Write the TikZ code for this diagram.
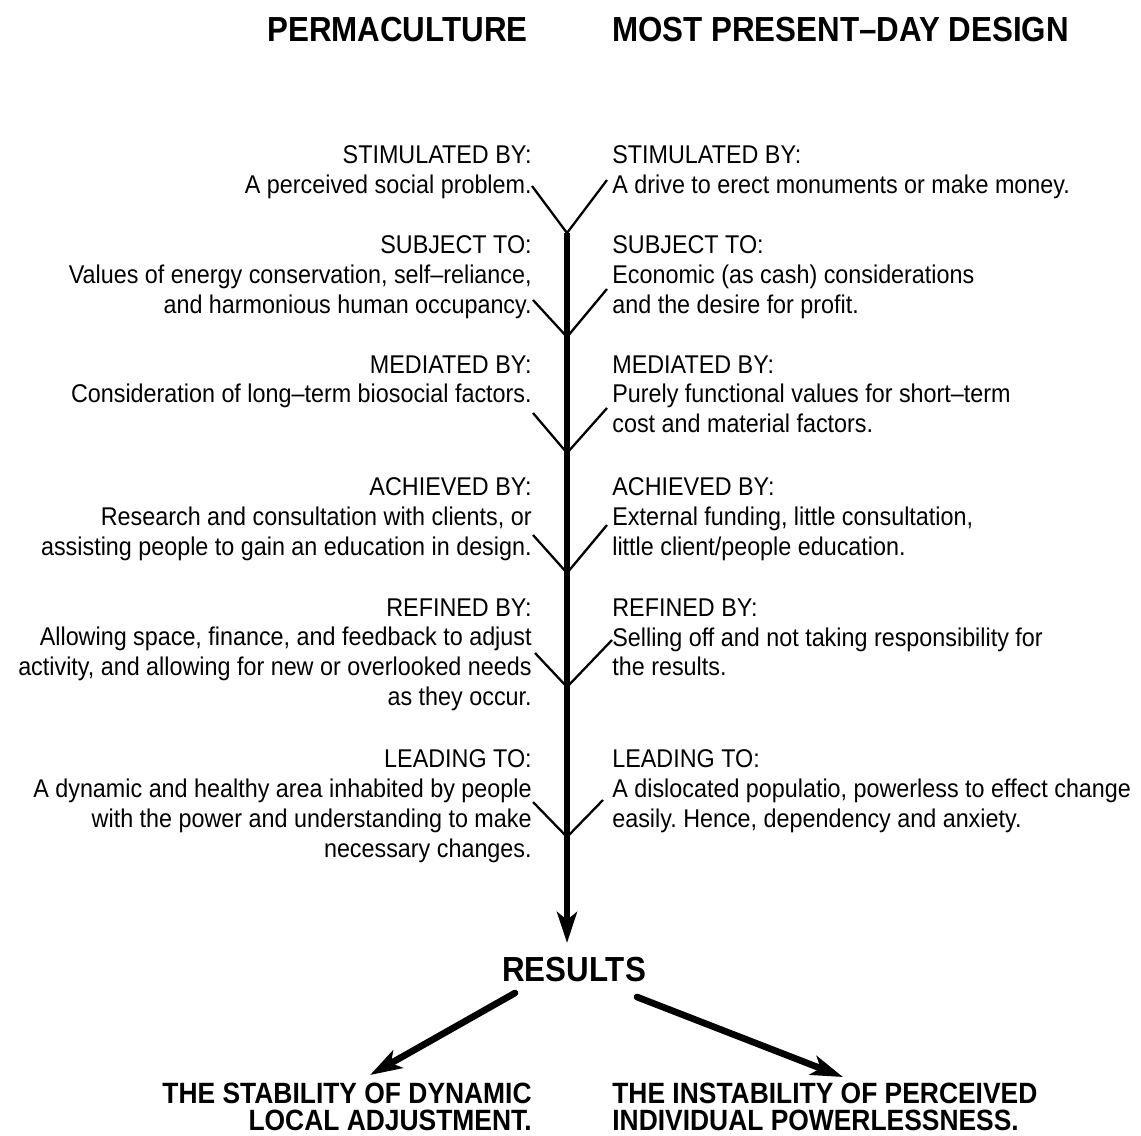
\documentclass[tikz,border=0pt]{standalone}
\usepackage{fontspec}
\setmainfont{Liberation Sans}[FakeStretch=0.91]
\newfontfamily\headfont{Liberation Sans}[FakeStretch=0.9]
\usetikzlibrary{arrows.meta}
\frenchspacing
\newcommand\bodysize{\fontsize{14.6}{17.07}\selectfont}
\tikzset{
lefttext/.style={
anchor=north east,
align=right,
inner sep=0pt,
font=\bodysize
},
righttext/.style={
anchor=north west,
align=left,
inner sep=0pt,
font=\bodysize
},
heading/.style={
inner sep=0pt,
font=\headfont\bfseries\fontsize{19.8}{24}\selectfont
},
outcome/.style={
inner sep=0pt,
font=\headfont\bfseries\fontsize{16.7}{15.4}\selectfont
},
branch/.style={
line width=1.3pt
},
spine/.style={
line width=3.6pt,
-{Stealth[length=6.2mm,width=4mm,inset=1.6mm]}
},
bigarrow/.style={
line width=3.8pt,
line cap=round,
-{Stealth[length=6.4mm,width=4mm,inset=1.6mm]}
}
}

\begin{document}
\begin{tikzpicture}[x=0.02cm,y=-0.02cm]
\useasboundingbox[fill=white](0,0) rectangle (1141,1135);

% column headings
\node[heading,anchor=north east](perma) at (528,17){PERMACULTURE};
\node[heading,anchor=north west](modern) at (612,17){MOST PRESENT–DAY DESIGN};

% permaculture side
\node[lefttext](pstim) at (532,145){STIMULATED BY:\\A perceived social problem.};
\node[lefttext](psubj) at (532,235){SUBJECT TO:\\Values of energy conservation, self–reliance,\\and harmonious human occupancy.};
\node[lefttext](pmed) at (532,355){MEDIATED BY:\\Consideration of long–term biosocial factors.};
\node[lefttext](pach) at (532,477){ACHIEVED BY:\\Research and consultation with clients, or\\assisting people to gain an education in design.};
\node[lefttext](pref) at (532,598){REFINED BY:\\Allowing space, finance, and feedback to adjust\\activity, and allowing for new or overlooked needs\\as they occur.};
\node[lefttext](plead) at (532,749){LEADING TO:\\A dynamic and healthy area inhabited by people\\with the power and understanding to make\\necessary changes.};

% present-day side
\node[righttext](mstim) at (612,145){STIMULATED BY:\\A drive to erect monuments or make money.};
\node[righttext](msubj) at (612,235){SUBJECT TO:\\Economic (as cash) considerations\\and the desire for profit.};
\node[righttext](mmed) at (612,355){MEDIATED BY:\\Purely functional values for short–term\\cost and material factors.};
\node[righttext](mach) at (612,477){ACHIEVED BY:\\External funding, little consultation,\\little client/people education.};
\node[righttext](mref) at (612,598){REFINED BY:\\Selling off and not taking responsibility for\\the results.};
\node[righttext](mlead) at (612,749){LEADING TO:\\A dislocated populatio, powerless to effect change\\easily. Hence, dependency and anxiety.};

% junctions on the stem
\coordinate(j1) at (567,233);
\coordinate(j2) at (567,337);
\coordinate(j3) at (567,453);
\coordinate(j4) at (567,573);
\coordinate(j5) at (567,687);
\coordinate(j6) at (567,837);

\coordinate(l1) at (532,186);
\coordinate(r1) at (607,180);
\coordinate(l2) at (533,300);
\coordinate(r2) at (607,289);
\coordinate(l3) at (533,413);
\coordinate(r3) at (607,408);
\coordinate(l4) at (533,535);
\coordinate(r4) at (607,525);
\coordinate(l5) at (535,653);
\coordinate(r5) at (612,640);
\coordinate(l6) at (533,802);
\coordinate(r6) at (603,800);

\draw[branch](l1)--(j1)--(r1);
\draw[branch](l2)--(j2)--(r2);
\draw[branch](l3)--(j3)--(r3);
\draw[branch](l4)--(j4)--(r4);
\draw[branch](l5)--(j5)--(r5);
\draw[branch](l6)--(j6)--(r6);

% results
\node[heading,anchor=north](res) at (574,957){RESULTS};
\draw[spine,shorten >=0.28cm](j1)--(res.north -| j1);

\node[outcome,anchor=north east,align=right](stab) at (532,1083){THE STABILITY OF DYNAMIC\\LOCAL ADJUSTMENT.};
\node[outcome,anchor=north west,align=left](instab) at (612,1083){THE INSTABILITY OF PERCEIVED\\INDIVIDUAL POWERLESSNESS.};

\coordinate(ls) at (515,993);
\coordinate(le) at (370,1075);
\coordinate(rs) at (637,997);
\coordinate(re) at (843,1077);
\draw[bigarrow](ls)--(le);
\draw[bigarrow](rs)--(re);
\end{tikzpicture}
\end{document}
